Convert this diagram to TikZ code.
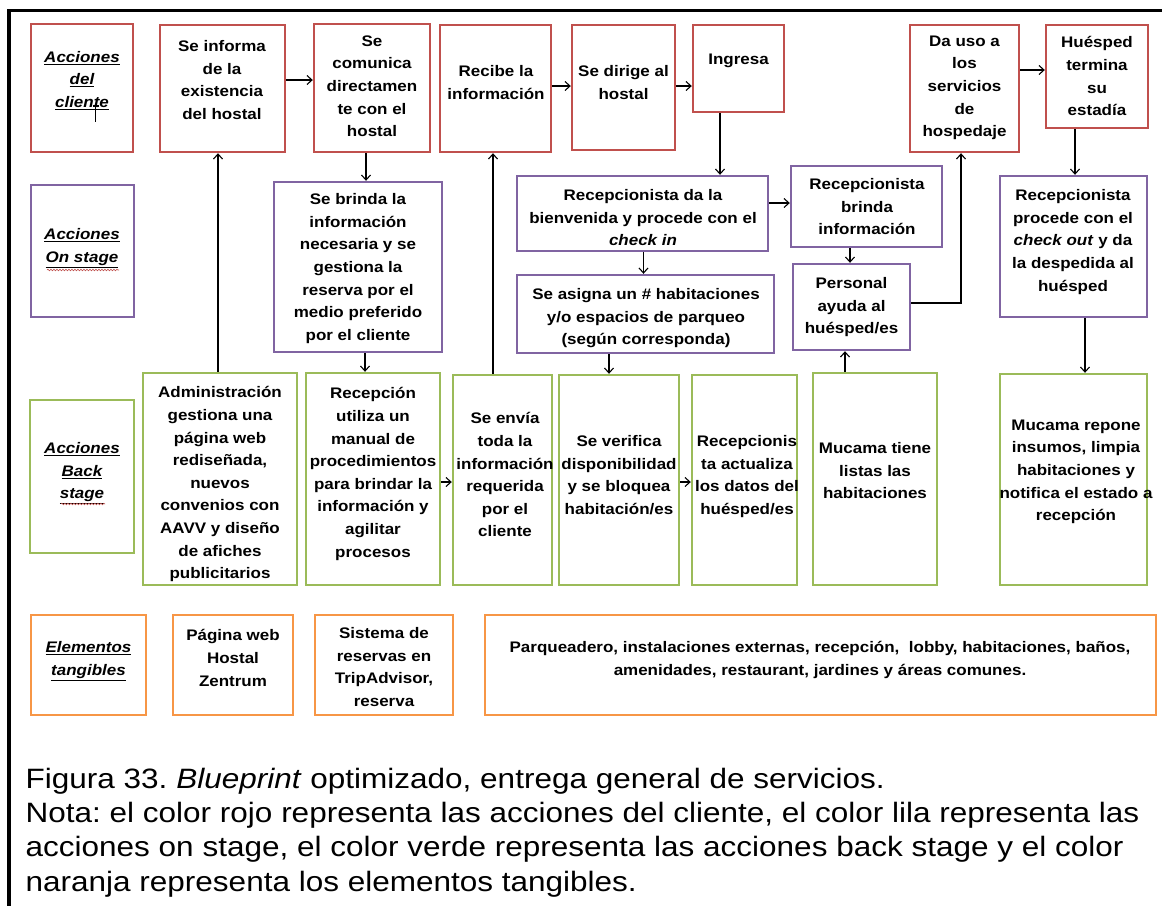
\documentclass[tikz,border=0pt]{standalone}
\usepackage{fontspec}
\setmainfont{Liberation Sans}[FakeStretch=1.11]
\newfontfamily\capfont{Liberation Sans}[FakeStretch=1.125]
\usetikzlibrary{fit,arrows.meta,decorations.pathmorphing}
\definecolor{cRed}{RGB}{192,80,77}
\definecolor{cLila}{RGB}{128,100,162}
\definecolor{cGreen}{RGB}{155,187,89}
\definecolor{cOrange}{RGB}{247,150,70}
\frenchspacing
\begin{document}
\begin{tikzpicture}[x=1pt,y=-1pt,
  bx/.style={draw=#1, line width=2.4pt, inner sep=0pt},
  txt/.style={font=\fontsize{15.3}{22.6}\selectfont\bfseries, align=center, inner sep=0pt, anchor=north},
  lbl/.style={font=\fontsize{15.3}{22.6}\selectfont\bfseries\itshape, align=center, inner sep=0pt, anchor=north},
  arr/.style={line width=1.1pt, -{Straight Barb[length=5pt,width=9pt]}},
  squiggle/.style={cRed, line width=0.6pt, decorate, decoration={snake, amplitude=0.8pt, segment length=3pt}}]
\useasboundingbox (0,0) rectangle (1162,906);
\fill[white] (0,0) rectangle (1162,906);

% outer frame
\draw[line width=3.2pt] (1162,10.6) -- (9,10.6) -- (9,906);

% ---- customer actions (red)
\node[bx=cRed, fit={(31,24) (133,152)}] (l1) {};
\node[bx=cRed, fit={(160,25) (285,152)}] (b1) {};
\node[bx=cRed, fit={(314,24) (430,152)}] (b2) {};
\node[bx=cRed, fit={(440,25) (551,152)}] (b3) {};
\node[bx=cRed, fit={(572,25) (675,150)}] (b4) {};
\node[bx=cRed, fit={(693,25) (784,112)}] (b5) {};
\node[bx=cRed, fit={(910,25) (1019,152)}] (b6) {};
\node[bx=cRed, fit={(1046,25) (1148,128)}] (b7) {};

\node[lbl] (l1t) at (82,51) {\underline{Acciones}\\\underline{del}\\\underline{cliente}};
\draw[line width=1.1pt] (95.5,106) -- (95.5,122) (92.5,106) -- (98.5,106);
\node[txt] (b1t) at (222,40.5) {Se informa\\de la\\existencia\\del hostal};
\node[txt] (b2t) at (372,35.5) {Se\\comunica\\directamen\\te con el\\hostal};
\node[txt] (b3t) at (496,65.5) {Recibe la\\información};
\node[txt] (b4t) at (623.5,65.5) {Se dirige al\\hostal};
\node[txt] (b5t) at (738.5,53.5) {Ingresa};
\node[txt] (b6t) at (964.5,35.5) {Da uso a\\los\\servicios\\de\\hospedaje};
\node[txt] (b7t) at (1097,36.5) {Huésped\\termina\\su\\estadía};

% ---- on stage actions (lila)
\node[bx=cLila, fit={(31,185) (134,317)}] (l2) {};
\node[bx=cLila, fit={(274,182) (442,352)}] (p1) {};
\node[bx=cLila, fit={(517,176) (768,251)}] (p2) {};
\node[bx=cLila, fit={(791,166) (942,247)}] (p3) {};
\node[bx=cLila, fit={(517,275) (774,353)}] (p4) {};
\node[bx=cLila, fit={(793,264) (910,350)}] (p5) {};
\node[bx=cLila, fit={(1000,176) (1147,317)}] (p6) {};

\node[lbl] (l2t) at (82,228.5) {\underline{Acciones}\\\underline{On stage}};
\draw[squiggle] (47,270) -- (119,270);
\node[txt] (p1t) at (358,193.5) {Se brinda la\\información\\necesaria y se\\gestiona la\\reserva por el\\medio preferido\\por el cliente};
\node[txt] (p2t) at (643,189.5) {Recepcionista da la\\bienvenida y procede con el\\\textit{check in}};
\node[txt] (p3t) at (867,178.5) {Recepcionista\\brinda\\información};
\node[txt] (p4t) at (646,288.5) {Se asigna un \# habitaciones\\y/o espacios de parqueo\\(según corresponda)};
\node[txt] (p5t) at (851.5,277.5) {Personal\\ayuda al\\huésped/es};
\node[txt] (p6t) at (1073,189.5) {Recepcionista\\procede con el\\\textit{check out} y da\\la despedida al\\huésped};

% ---- back stage actions (green)
\node[bx=cGreen, fit={(30,400) (134,553)}] (l3) {};
\node[bx=cGreen, fit={(143,373) (297,585)}] (g1) {};
\node[bx=cGreen, fit={(306,373) (440,585)}] (g2) {};
\node[bx=cGreen, fit={(453,375) (552,585)}] (g3) {};
\node[bx=cGreen, fit={(559,375) (679,585)}] (g4) {};
\node[bx=cGreen, fit={(692,375) (797,585)}] (g5) {};
\node[bx=cGreen, fit={(813,373) (937,585)}] (g6) {};
\node[bx=cGreen, fit={(1000,374) (1147,585)}] (g7) {};

\node[lbl] (l3t) at (82,442.5) {\underline{Acciones}\\\underline{Back}\\\underline{stage}};
\draw[squiggle] (61,504) -- (105,504);
\node[txt] (g1t) at (220,386.5) {Administración\\gestiona una\\página web\\rediseñada,\\nuevos\\convenios con\\AAVV y diseño\\de afiches\\publicitarios};
\node[txt] (g2t) at (373,387.5) {Recepción\\utiliza un\\manual de\\procedimientos\\para brindar la\\información y\\agilitar\\procesos};
\begin{scope}
  \clip ([xshift=1.2pt,yshift=-1.2pt]g3.north west) rectangle ([xshift=-1.2pt,yshift=1.2pt]g3.south east);
  \node[txt] (g3t) at (505,412.5) {Se envía\\toda la\\información\\requerida\\por el\\cliente};
\end{scope}
\node[txt] (g4t) at (619,435.5) {Se verifica\\disponibilidad\\y se bloquea\\habitación/es};
\begin{scope}
  \clip ([xshift=1.2pt,yshift=-1.2pt]g5.north west) rectangle ([xshift=-1.2pt,yshift=1.2pt]g5.south east);
  \node[txt] (g5t) at (747,435.5) {Recepcionis\\ta actualiza\\los datos del\\huésped/es};
\end{scope}
\node[txt] (g6t) at (875,442.5) {Mucama tiene\\listas las\\habitaciones};
\node[txt] (g7t) at (1076,419.5) {Mucama repone\\insumos, limpia\\habitaciones y\\notifica el estado a\\recepción};

% ---- tangible elements (orange)
\node[bx=cOrange, fit={(31,615) (146,715)}] (l4) {};
\node[bx=cOrange, fit={(173,615) (293,715)}] (o1) {};
\node[bx=cOrange, fit={(315,615) (453,715)}] (o2) {};
\node[bx=cOrange, fit={(485,615) (1156,715)}] (o3) {};

\node[lbl] (l4t) at (88.5,641.5) {\underline{Elementos}\\\underline{tangibles}};
\node[txt] (o1t) at (233,629.5) {Página web\\Hostal\\Zentrum};
\node[txt] (o2t) at (384,627.5) {Sistema de\\reservas en\\TripAdvisor,\\reserva};
\node[txt] (o3t) at (820,641.5) {Parqueadero, instalaciones externas, recepción,~ lobby, habitaciones, baños,\\amenidades, restaurant, jardines y áreas comunes.};

% ---- connectors
\draw[arr] (b1.east |- 0,80) -- (b2.west |- 0,80);
\draw[arr] (b3.east |- 0,86) -- (b4.west |- 0,86);
\draw[arr] (b4.east |- 0,86) -- (b5.west |- 0,86);
\draw[arr] (b6.east |- 0,70) -- (b7.west |- 0,70);
\draw[arr] (g1.north -| 218,0) -- (b1.south -| 218,0);
\draw[arr] (b2.south -| 366,0) -- (p1.north -| 366,0);
\draw[arr] (p1.south -| 365,0) -- (g2.north -| 365,0);
\draw[arr] (g3.north -| 493,0) -- (b3.south -| 493,0);
\draw[arr] (b5.south -| 720,0) -- (p2.north -| 720,0);
\draw[arr] (p2.east |- 0,203) -- (p3.west |- 0,203);
\draw[arr] (p2.south -| 643.5,0) -- (p4.north -| 643.5,0);
\draw[arr] (p3.south -| 850,0) -- (p5.north -| 850,0);
\draw[arr] (p5.east |- 0,303) -| (b6.south -| 961,0);
\draw[arr] (p4.south -| 609,0) -- (g4.north -| 609,0);
\draw[arr] (g6.north -| 845,0) -- (p5.south -| 845,0);
\draw[arr] (b7.south -| 1075,0) -- (p6.north -| 1075,0);
\draw[arr] (p6.south -| 1085,0) -- (g7.north -| 1085,0);
\draw[arr] (g2.east |- 0,482) -- (g3.west |- 0,482);
\draw[arr] (g4.east |- 0,482) -- (g5.west |- 0,482);

% ---- caption
\node[font=\capfont\fontsize{28}{34.4}\selectfont, align=left, inner sep=0pt, anchor=north west] (cap) at (25.5,767.5)
  {Figura 33. \textit{Blueprint} optimizado, entrega general de servicios.\\
   Nota: el color rojo representa las acciones del cliente, el color lila representa las\\
   acciones on stage, el color verde representa las acciones back stage y el color\\
   naranja representa los elementos tangibles.};
\end{tikzpicture}
\end{document}
